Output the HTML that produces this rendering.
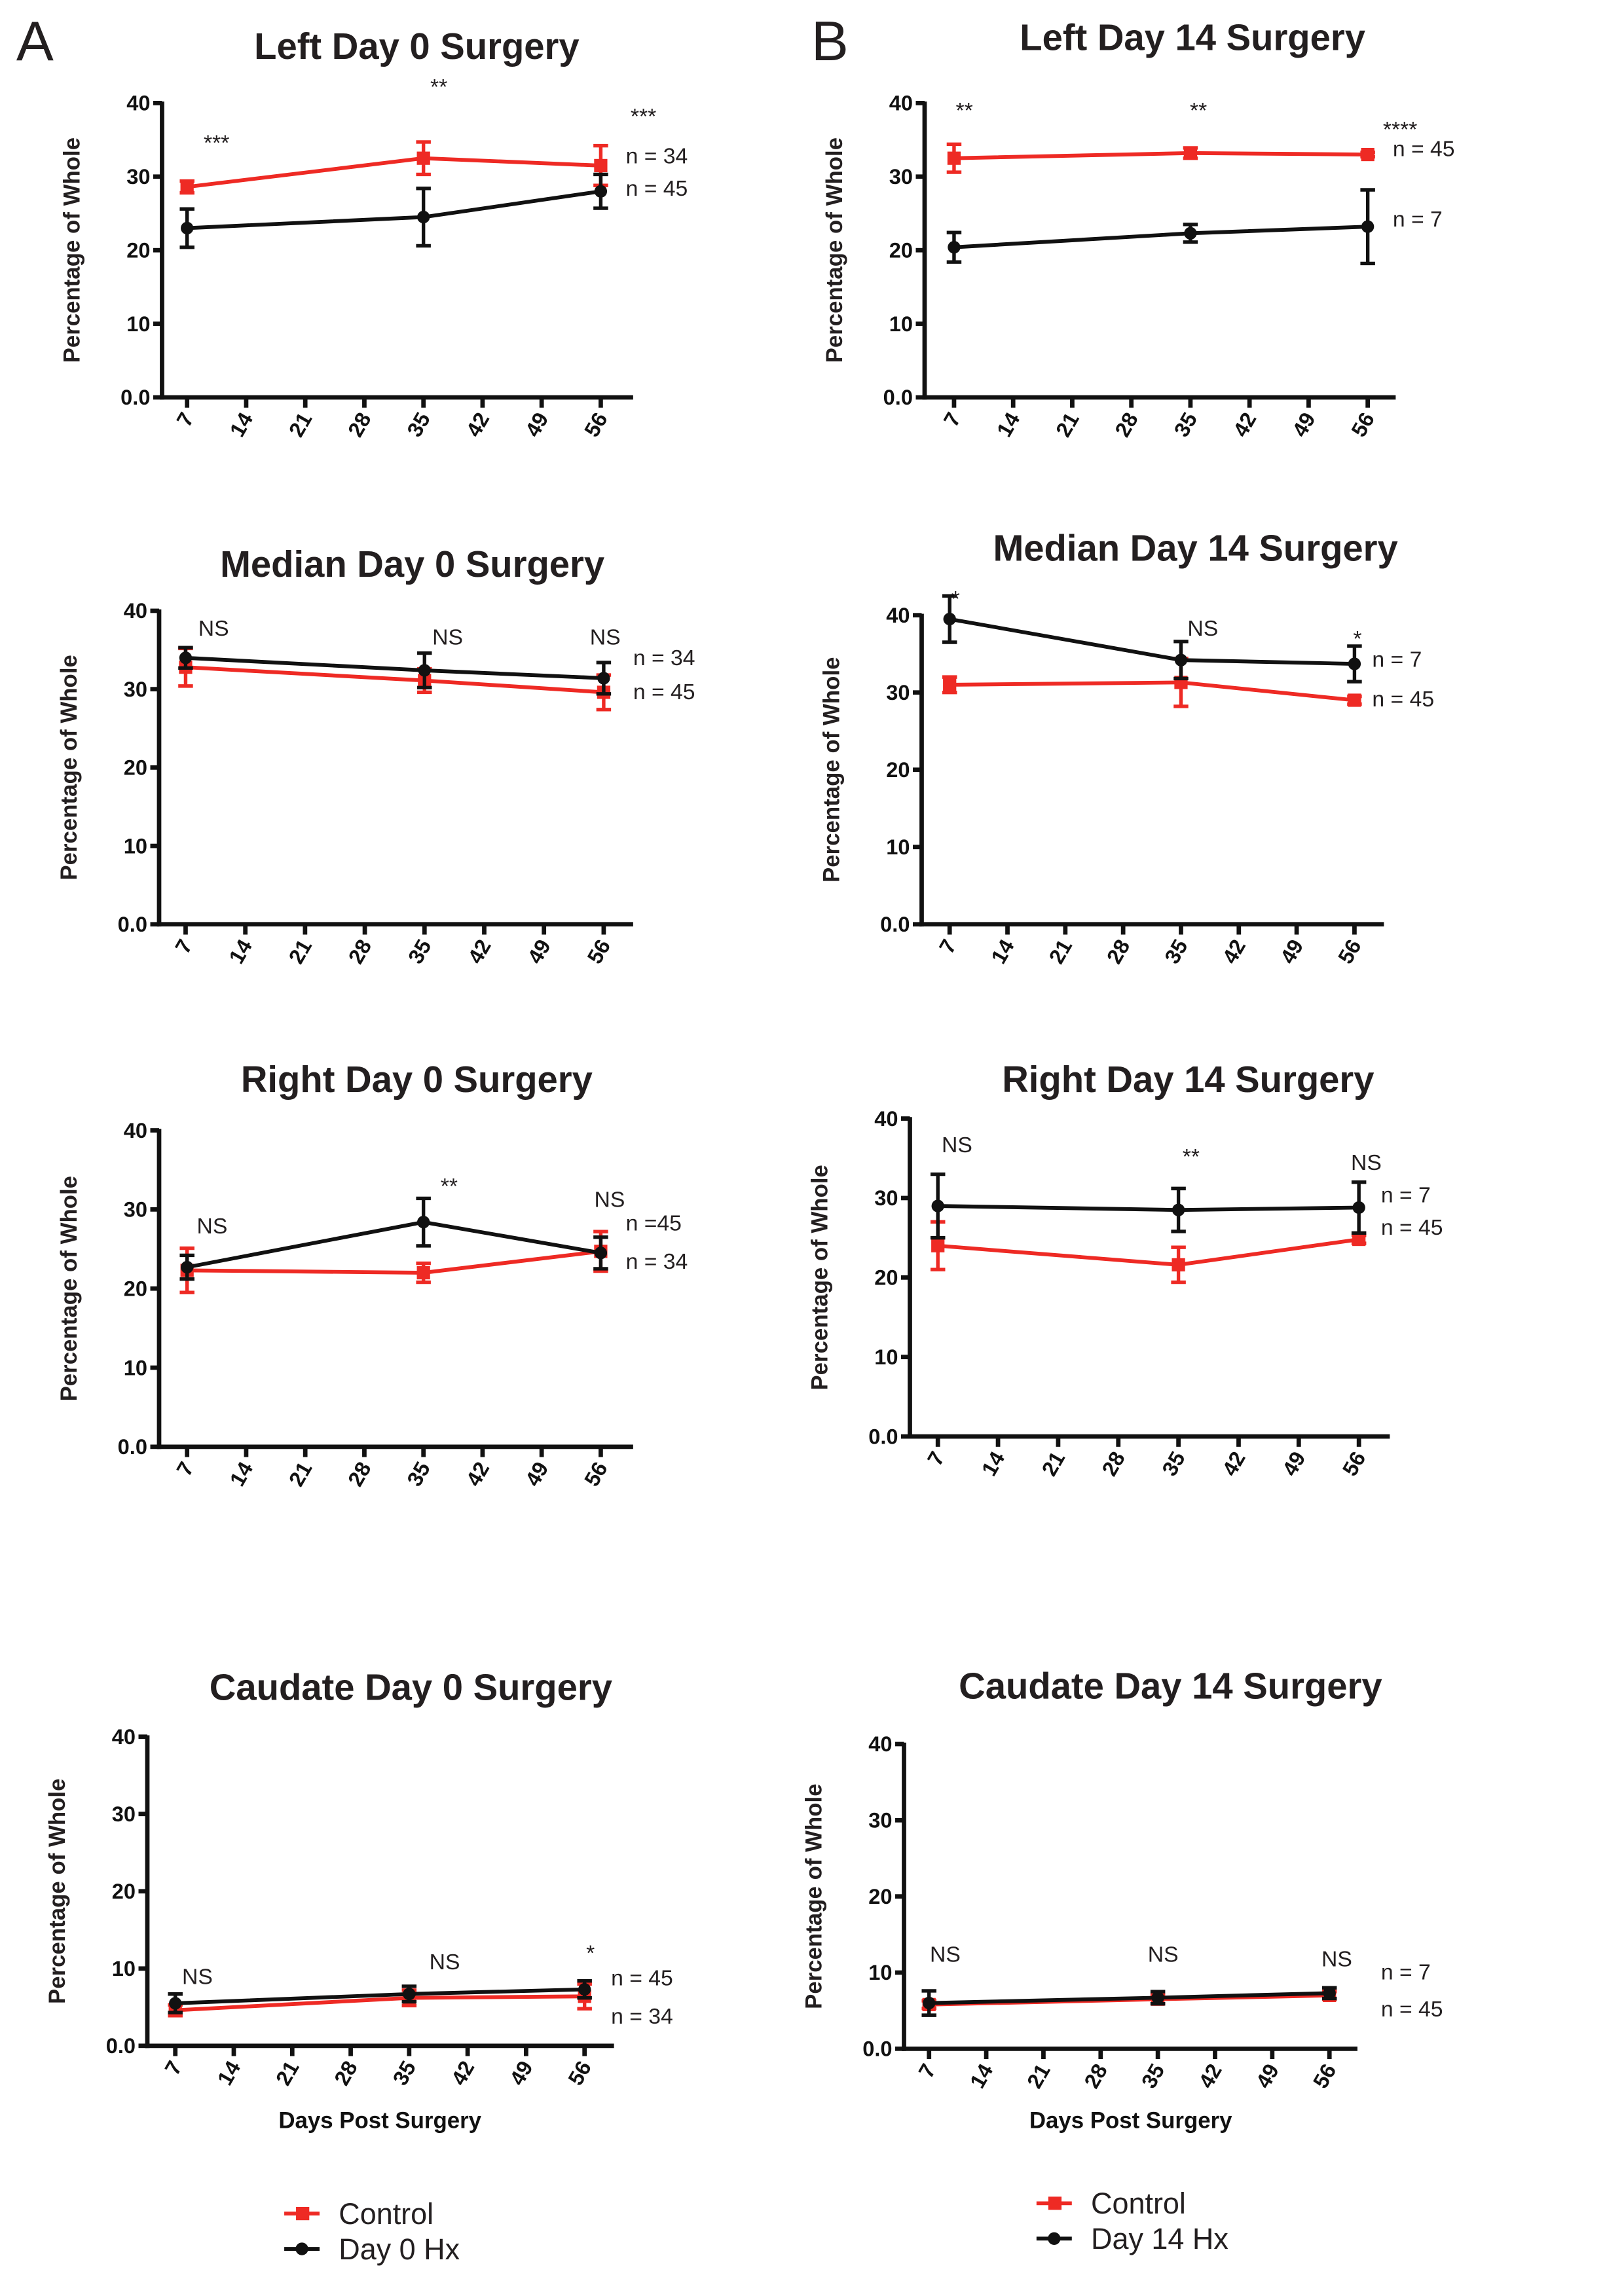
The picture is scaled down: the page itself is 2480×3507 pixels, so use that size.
<!DOCTYPE html>
<html><head><meta charset="utf-8"><style>
html,body{margin:0;padding:0;background:#fff;}
svg{display:block;}
.ttl{font-family:"Liberation Sans Narrow","Liberation Sans",sans-serif;font-weight:bold;font-size:25px;fill:#231f20;}
.tk{font-family:"Liberation Sans Narrow","Liberation Sans",sans-serif;font-weight:bold;font-size:14.5px;fill:#111;}
.yl{font-family:"Liberation Sans",sans-serif;font-weight:bold;font-size:15.5px;fill:#231f20;}
.an{font-family:"Liberation Sans Narrow","Liberation Sans",sans-serif;font-size:15px;fill:#231f20;}
.lg{font-family:"Liberation Sans",sans-serif;font-size:20px;fill:#231f20;}
</style></head><body>
<svg id="fig" width="2480" height="3507" viewBox="0 0 1103 1560" xmlns="http://www.w3.org/2000/svg">
<text x="11" y="41" style="font-family:'Liberation Sans Narrow','Liberation Sans',sans-serif;font-size:38px;fill:#231f20">A</text>
<text x="551" y="41" style="font-family:'Liberation Sans Narrow','Liberation Sans',sans-serif;font-size:38px;fill:#231f20">B</text>
</svg>
<script>
const days = [7, 35, 56];
const xTickLabels = ["7","14","21","28","35","42","49","56"];
const yTickVals = [0, 10, 20, 30, 40];
const yTickLabels = ["0.0","10","20","30","40"];

const leftD0Ctrl = [28.6, 32.5, 31.5];   const leftD0CtrlErr = [0.8, 2.2, 2.7];
const leftD0Hx = [23.0, 24.5, 28.0];     const leftD0HxErr = [2.6, 3.9, 2.3];
const leftD14Ctrl = [32.5, 33.2, 33.0];  const leftD14CtrlErr = [1.9, 0.7, 0.3];
const leftD14Hx = [20.4, 22.3, 23.2];    const leftD14HxErr = [2.0, 1.2, 5.0];
const medD0Ctrl = [32.8, 31.1, 29.6];    const medD0CtrlErr = [2.4, 1.5, 2.2];
const medD0Hx = [34.0, 32.4, 31.4];      const medD0HxErr = [1.3, 2.2, 2.0];
const medD14Ctrl = [31.0, 31.3, 29.0];   const medD14CtrlErr = [1.0, 3.1, 0.5];
const medD14Hx = [39.5, 34.2, 33.7];     const medD14HxErr = [3.0, 2.4, 2.3];
const rightD0Ctrl = [22.3, 22.0, 24.7];  const rightD0CtrlErr = [2.8, 1.2, 2.5];
const rightD0Hx = [22.7, 28.4, 24.5];    const rightD0HxErr = [1.5, 3.0, 2.0];
const rightD14Ctrl = [24.0, 21.6, 24.8]; const rightD14CtrlErr = [3.0, 2.2, 0.5];
const rightD14Hx = [29.0, 28.5, 28.8];   const rightD14HxErr = [4.0, 2.7, 3.2];
const caudD0Ctrl = [4.6, 6.2, 6.4];      const caudD0CtrlErr = [0.7, 1.0, 1.6];
const caudD0Hx = [5.5, 6.7, 7.3];        const caudD0HxErr = [1.2, 1.0, 1.1];
const caudD14Ctrl = [5.8, 6.5, 7.0];     const caudD14CtrlErr = [0.5, 0.6, 0.5];
const caudD14Hx = [6.0, 6.7, 7.3];       const caudD14HxErr = [1.6, 0.8, 0.7];

const panels = [
 {id:"left-day0",title:"Left Day 0 Surgery",tx:283,ty:40,x0:110,yTop:70,yBot:270,xEnd:430,x7:127,x56:408,
  ctrl:leftD0Ctrl,ctrlE:leftD0CtrlErr,hx:leftD0Hx,hxE:leftD0HxErr,
  ann:[["***",147,102],["**",298,64],["***",437,84],["n = 34",425,111],["n = 45",425,133]]},
 {id:"left-day14",title:"Left Day 14 Surgery",tx:810,ty:34,x0:628,yTop:70,yBot:270,xEnd:948,x7:648,x56:929,
  ctrl:leftD14Ctrl,ctrlE:leftD14CtrlErr,hx:leftD14Hx,hxE:leftD14HxErr,
  ann:[["**",655,80],["**",814,80],["****",951,93],["n = 45",946,106],["n = 7",946,154]]},
 {id:"median-day0",title:"Median Day 0 Surgery",tx:280,ty:392,x0:108,yTop:415,yBot:628,xEnd:430,x7:126,x56:410,
  ctrl:medD0Ctrl,ctrlE:medD0CtrlErr,hx:medD0Hx,hxE:medD0HxErr,
  ann:[["NS",145,432],["NS",304,438],["NS",411,438],["n = 34",430,452],["n = 45",430,475]]},
 {id:"median-day14",title:"Median Day 14 Surgery",tx:812,ty:381,x0:626,yTop:418,yBot:628,xEnd:940,x7:645,x56:920,
  ctrl:medD14Ctrl,ctrlE:medD14CtrlErr,hx:medD14Hx,hxE:medD14HxErr,
  ann:[["*",649,412],["NS",817,432],["*",922,439],["n = 7",932,453],["n = 45",932,480]]},
 {id:"right-day0",title:"Right Day 0 Surgery",tx:283,ty:742,x0:108,yTop:768,yBot:983,xEnd:430,x7:127,x56:408,
  ctrl:rightD0Ctrl,ctrlE:rightD0CtrlErr,hx:rightD0Hx,hxE:rightD0HxErr,
  ann:[["NS",144,838],["**",305,811],["NS",414,820],["n =45",425,836],["n = 34",425,862]]},
 {id:"right-day14",title:"Right Day 14 Surgery",tx:807,ty:742,x0:618,yTop:760,yBot:976,xEnd:944,x7:637,x56:923,
  ctrl:rightD14Ctrl,ctrlE:rightD14CtrlErr,hx:rightD14Hx,hxE:rightD14HxErr,
  ann:[["NS",650,783],["**",809,791],["NS",928,795],["n = 7",938,817],["n = 45",938,839]]},
 {id:"caudate-day0",title:"Caudate Day 0 Surgery",tx:279,ty:1155,x0:100,yTop:1180,yBot:1390,xEnd:417,x7:119,x56:397,
  ctrl:caudD0Ctrl,ctrlE:caudD0CtrlErr,hx:caudD0Hx,hxE:caudD0HxErr,xlabel:258,
  ann:[["NS",134,1348],["NS",302,1338],["*",401,1332],["n = 45",415,1349],["n = 34",415,1375]]},
 {id:"caudate-day14",title:"Caudate Day 14 Surgery",tx:795,ty:1154,x0:614,yTop:1185,yBot:1392,xEnd:922,x7:631,x56:903,
  ctrl:caudD14Ctrl,ctrlE:caudD14CtrlErr,hx:caudD14Hx,hxE:caudD14HxErr,xlabel:768,
  ann:[["NS",642,1333],["NS",790,1333],["NS",908,1336],["n = 7",938,1345],["n = 45",938,1370]]}
];

const NS = "http://www.w3.org/2000/svg";
const svg = document.getElementById("fig");
function mk(tag, attrs, parent){const e=document.createElementNS(NS,tag);for(const k in attrs)e.setAttribute(k,attrs[k]);(parent||svg).appendChild(e);return e;}

panels.forEach(p=>{
  const g = mk("g",{});
  
  
  const xs = d => p.x7 + (d-7)*(p.x56-p.x7)/49;
  const ys = v => p.yBot - v*(p.yBot-p.yTop)/40;
  const t = mk("text",{x:p.tx,y:p.ty,"text-anchor":"middle",class:"ttl"},g); t.textContent=p.title;
  
  
  const ya = mk("line",{x1:p.x0,y1:p.yTop-1,x2:p.x0,y2:p.yBot+1.5,stroke:"#111","stroke-width":3},g);
  
  
  const xa = mk("line",{x1:p.x0-1.5,y1:p.yBot,x2:p.xEnd,y2:p.yBot,stroke:"#111","stroke-width":3},g);
  
  
  yTickVals.forEach((v,i)=>{
    mk("line",{x1:p.x0-6,y1:ys(v),x2:p.x0,y2:ys(v),stroke:"#111","stroke-width":3},g);
    const l = mk("text",{x:p.x0-8,y:ys(v)+5,"text-anchor":"end",class:"tk"},g); l.textContent=yTickLabels[i];
    
    
  });
  xTickLabels.forEach((lab,i)=>{
    const x = xs(7+7*i);
    mk("line",{x1:x,y1:p.yBot,x2:x,y2:p.yBot+7,stroke:"#111","stroke-width":3},g);
    const l = mk("text",{x:0,y:0,"text-anchor":"end",class:"tk",transform:`translate(${x+5},${p.yBot+14}) rotate(-60)`},g); l.textContent=lab;
    
    
  });
  const yl = mk("text",{x:0,y:0,"text-anchor":"middle",class:"yl",transform:`translate(${p.x0-56},${(p.yTop+p.yBot)/2}) rotate(-90)`},g);
  yl.textContent="Percentage of Whole";
  
  
  if(p.xlabel){
    const xl = mk("text",{x:p.xlabel,y:1446,"text-anchor":"middle",class:"tk",style:"font-size:15.5px"},g); xl.textContent="Days Post Surgery";
    
    
  }
  [[p.ctrl,p.ctrlE,"#ee2a24","control"],[p.hx,p.hxE,"#111","hx"]].forEach(([vals,errs,col,nm])=>{
    const sg = mk("g",{},g);
    
    
    const pl = mk("polyline",{points:days.map((d,i)=>xs(d)+","+ys(vals[i])).join(" "),fill:"none",stroke:col,"stroke-width":2.6},sg);
    
    
    days.forEach((d,i)=>{
      const x=xs(d), y1=ys(vals[i]+errs[i]), y2=ys(vals[i]-errs[i]);
      const eb = mk("path",{d:`M${x},${y1}V${y2}M${x-5},${y1}H${x+5}M${x-5},${y2}H${x+5}`,stroke:col,"stroke-width":2.4,fill:"none"},sg);
      
      
      let m;
      if(nm==="control") m = mk("rect",{x:x-4.5,y:ys(vals[i])-4.5,width:9,height:9,fill:col},sg);
      else m = mk("circle",{cx:x,cy:ys(vals[i]),r:4.3,fill:col},sg);
      
      
    });
  });
  p.ann.forEach(a=>{
    const e = mk("text",{x:a[1],y:a[2],"text-anchor":a[0].startsWith("n")?"start":"middle",class:"an"},g); e.textContent=a[0];
    
    
  });
});

[[193,1504,"Day 0 Hx","legend-a"],[704,1497,"Day 14 Hx","legend-b"]].forEach(([x,y,lab,nm])=>{
  const g = mk("g",{});
  
  
  mk("line",{x1:x,y1:y,x2:x+24,y2:y,stroke:"#ee2a24","stroke-width":2.6},g);
  mk("rect",{x:x+8,y:y-4.5,width:9,height:9,fill:"#ee2a24"},g);
  const t1 = mk("text",{x:x+37,y:y+7,class:"lg"},g); t1.textContent="Control";
  
  
  mk("line",{x1:x,y1:y+24,x2:x+24,y2:y+24,stroke:"#111","stroke-width":2.6},g);
  mk("circle",{cx:x+12,cy:y+24,r:4.3,fill:"#111"},g);
  const t2 = mk("text",{x:x+37,y:y+31,class:"lg"},g); t2.textContent=lab;
  
  
});
</script>
</body></html>
